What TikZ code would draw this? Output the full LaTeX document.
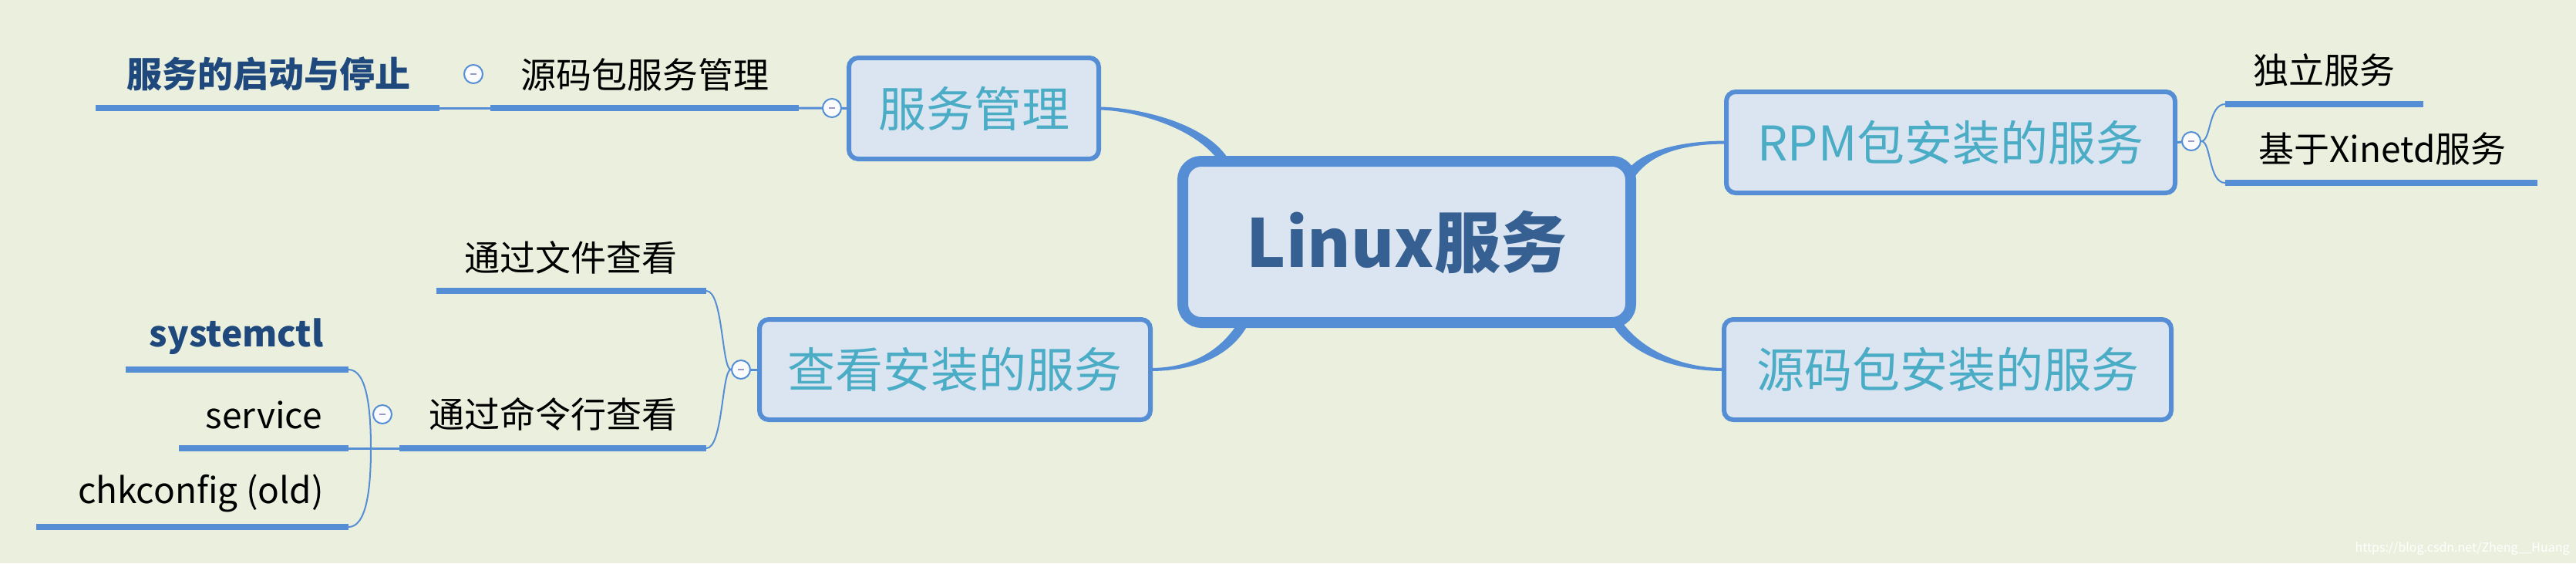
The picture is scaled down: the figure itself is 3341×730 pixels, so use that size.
\documentclass[tikz,border=0pt]{standalone}
\usepackage{fontspec}
\setmainfont{Noto Sans CJK SC}
\usetikzlibrary{calc}
\definecolor{bgc}{HTML}{EBF0DE}
\definecolor{lnk}{HTML}{558ED5}
\definecolor{boxfill}{HTML}{DBE5F1}
\definecolor{topictxt}{HTML}{4BACC6}
\definecolor{roottxt}{HTML}{366092}
\definecolor{boldtxt}{HTML}{1F497D}
\definecolor{minusc}{HTML}{9A9AC4}
\pgfdeclarelayer{bglayer}
\pgfdeclarelayer{linklayer}
\pgfsetlayers{bglayer,linklayer,main}
\begin{document}
\begin{tikzpicture}[x=0.5pt, y=-0.5pt,
  rootbox/.style={draw=lnk, fill=boxfill, line width=7pt, rounded corners=12pt,
    minimum width=290.5pt, minimum height=104.5pt, inner sep=0pt, text=roottxt,
    font=\fontsize{43pt}{50pt}\selectfont\bfseries},
  topic/.style={draw=lnk, fill=boxfill, line width=3pt, rounded corners=6pt,
    minimum height=65.5pt, inner sep=0pt, text=topictxt,
    font=\fontsize{31pt}{36pt}\selectfont},
  leaf/.style={inner sep=0pt, text=black, font=\fontsize{23pt}{27pt}\selectfont},
  leafbold/.style={inner sep=0pt, text=boldtxt, font=\fontsize{23pt}{27pt}\selectfont\bfseries},
  uline/.style={draw=lnk, line width=4pt},
  thinlink/.style={draw=lnk, line width=1.5pt},
  bracket/.style={draw=lnk, line width=1pt},
  mainlink/.style={fill=lnk},
  collapse/.style={circle, draw=lnk, line width=1pt, fill=white!85!boxfill,
    minimum size=12pt, inner sep=0pt,
    path picture={\draw[minusc, line width=1pt]
      ([xshift=-2pt]path picture bounding box.center) --
      ([xshift=2pt]path picture bounding box.center);}},
]
\begin{pgfonlayer}{bglayer}
  \fill[bgc] (0,0) rectangle (3341,730);
\end{pgfonlayer}
\useasboundingbox (0,0) rectangle (3341,730);

% main boxes
\node[rootbox] (root) at (1824.5,313.5) {Linux服务};
\node[topic, minimum width=162pt] (svc) at (1263,140.5) {服务管理};
\node[topic, minimum width=291pt] (rpm) at (2530,184.5) {RPM包安装的服务};
\node[topic, minimum width=290pt, minimum height=65pt] (src) at (2526,479) {源码包安装的服务};
\node[topic, minimum width=253.5pt, minimum height=65pt] (view) at (1238.5,479) {查看安装的服务};

% leaves
\node[leaf] (srcmgmt) at (836,97) {源码包服务管理};
\node[leafbold] (startstop) at (348,96) {服务的启动与停止};
\node[leaf] (indep) at (3014,91) {独立服务};
\node[leaf] (xinetd) at (3090,193) {基于Xinetd服务};
\node[leaf] (byfile) at (740,334) {通过文件查看};
\node[leaf] (bycmd) at (717,537) {通过命令行查看};
\node[leafbold, anchor=base east] (sysctl) at (420,449) {systemctl};
\node[leaf, anchor=base east] (service) at (418,555) {service};
\node[leaf, anchor=base east] (chk) at (420,652) {chkconfig (old)};

% collapse buttons
\node[collapse] (c-svc) at (1079,140) {};
\node[collapse] (c-sm) at (614,96) {};
\node[collapse] (c-rpm) at (2842,183) {};
\node[collapse] (c-view) at (961,479) {};
\node[collapse] (c-cmd) at (496,537) {};

% watermark
\node[inner sep=0pt, anchor=east, text=white, font=\fontsize{8pt}{9pt}\selectfont] (wm) at (3333,711) {https://blog.csdn.net/Zheng\_\_Huang};

% underline end points
\coordinate (ss-l) at (124,140); \coordinate (ss-r) at (570,140);
\coordinate (sm-l) at (636,140); \coordinate (sm-r) at (1036,140);
\coordinate (in-l) at (2886,135); \coordinate (in-r) at (3143,135);
\coordinate (xi-l) at (2886,237); \coordinate (xi-r) at (3291,237);
\coordinate (bf-l) at (566,377); \coordinate (bf-r) at (916,377);
\coordinate (bc-l) at (518,581); \coordinate (bc-r) at (916,581);
\coordinate (sy-l) at (163,479); \coordinate (sy-r) at (452,479);
\coordinate (se-l) at (232,581); \coordinate (se-r) at (452,581);
\coordinate (ch-l) at (47,683);  \coordinate (ch-r) at (452,683);
\coordinate (jn) at (481,581);
% root attachment points
\coordinate (rA) at (1590,212);
\coordinate (rB) at (2116,224);
\coordinate (rC) at (2098,420);
\coordinate (rD) at (1612,420);

\begin{pgfonlayer}{linklayer}
  % main tapered branches
  \fill[mainlink] ($(svc.east)+(-4,-2)$) .. controls +(45,0) and +(-30,-52) .. ($(rA)+(5,-3)$)
     -- ($(rA)+(-5,3)$) .. controls +(-30,-50) and +(45,0) .. ($(svc.east)+(-4,2)$) -- cycle;
  \fill[mainlink] ($(rpm.west)+(4,-2)$) .. controls +(-55,0) and +(22,-27) .. ($(rB)+(-5,-4)$)
     -- ($(rB)+(5,4)$) .. controls +(22,-30) and +(-55,0) .. ($(rpm.west)+(4,2)$) -- cycle;
  \fill[mainlink] ($(src.west)+(4,-2)$) .. controls +(-60,0) and +(25,35) .. ($(rC)+(5,-3.5)$)
     -- ($(rC)+(-5,3.5)$) .. controls +(25,38) and +(-60,0) .. ($(src.west)+(4,2)$) -- cycle;
  \fill[mainlink] ($(view.east)+(-4,-2)$) .. controls +(59,0) and +(-22,35) .. ($(rD)+(-5,-3.5)$)
     -- ($(rD)+(5,3.5)$) .. controls +(-22,38) and +(59,0) .. ($(view.east)+(-4,2)$) -- cycle;

  % underlines
  \draw[uline] (ss-l) -- (ss-r);
  \draw[uline] (sm-l) -- (sm-r);
  \draw[uline] (in-l) -- (in-r);
  \draw[uline] (xi-l) -- (xi-r);
  \draw[uline] (bf-l) -- (bf-r);
  \draw[uline] (bc-l) -- (bc-r);
  \draw[uline] (sy-l) -- (sy-r);
  \draw[uline] (se-l) -- (se-r);
  \draw[uline] (ch-l) -- (ch-r);

  % thin links
  \draw[thinlink] (svc.west) -- (sm-r);
  \draw[thinlink] (sm-l) -- (ss-r);
  \draw[thinlink] (rpm.east) -- (c-rpm.center);
  \draw[thinlink] (view.west) -- (c-view.center);
  \draw[thinlink] (se-r) -- (bc-l);

  % brackets
  \draw[bracket] (c-rpm.east) .. controls +(13,0) and +(-22,0) .. (in-l);
  \draw[bracket] (c-rpm.east) .. controls +(13,0) and +(-22,0) .. (xi-l);
  \draw[bracket] (c-view.west) .. controls +(-12,0) and +(22,0) .. (bf-r);
  \draw[bracket] (c-view.west) .. controls +(-12,0) and +(22,0) .. (bc-r);
  \draw[bracket] (sy-r) .. controls +(24,0) and +(0,-50) .. (jn)
                        .. controls +(0,50) and +(24,0) .. (ch-r);
\end{pgfonlayer}
\end{tikzpicture}
\end{document}
